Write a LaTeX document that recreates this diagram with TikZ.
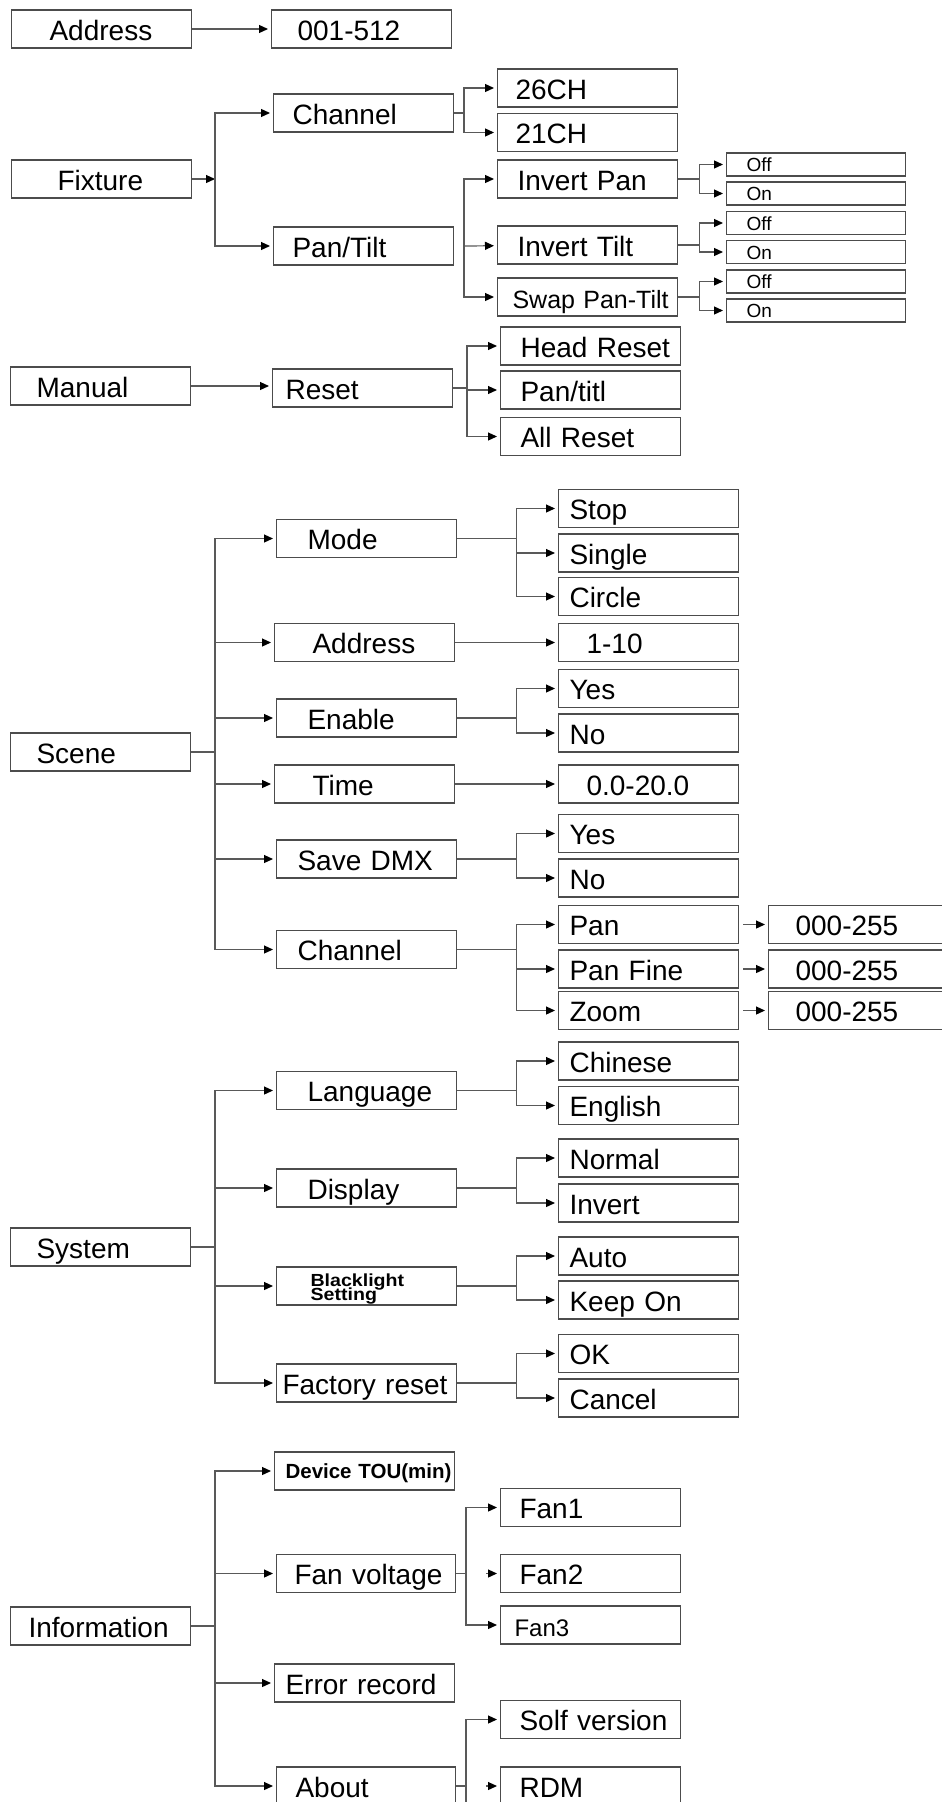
\documentclass[tikz,border=0pt]{standalone}
\usepackage{fontspec}
\setmainfont{Liberation Sans}
\newfontfamily\widefont[FakeStretch=1.12]{Liberation Sans}
\usetikzlibrary{arrows.meta}

\begin{document}
\begin{tikzpicture}[x=1pt,y=-1pt,
    box/.style={draw=black!70,line width=1.1pt,anchor=west,minimum height=38pt,
      text width=180pt,inner xsep=0pt,inner ysep=0pt,align=left,
      text height=22pt,text depth=0pt,font=\fontsize{28pt}{30pt}\selectfont},
    inset/.style={execute at begin node={\hspace*{#1}}},
    opt/.style={box,minimum height=23pt,text width=179pt,text height=14pt,
      font=\fontsize{19pt}{21pt}\selectfont},
    conn/.style={draw=black!65,line width=1.2pt},
    arrowtip/.style={-{Triangle[length=9pt,width=8pt,color=black]}},
    arr/.style={conn,arrowtip,shorten >=3pt}]
  \useasboundingbox (0,0) rectangle (942,1802);
  \clip (0,0) rectangle (942,1802);

  % address
  \node[box,inset=38pt] (addr) at (11,29) {Address};
  \node[box,inset=26pt] (addrval) at (271,29) {001-512};
  \draw[arr] (addr) -- (addrval);

  % fixture
  \node[box,inset=46pt] (fix) at (11,179) {Fixture};
  \node[box,inset=19pt] (fixch) at (273,113) {Channel};
  \node[box,inset=19pt] (fixpt) at (273,246) {Pan/Tilt};
  \node[box,inset=18pt] (ch26) at (497,88) {26CH};
  \node[box,inset=18pt] (ch21) at (497,132.5) {21CH};
  \node[box,inset=20pt] (ipan) at (497,179) {Invert Pan};
  \node[box,inset=20pt] (itilt) at (497,245) {Invert Tilt};
  \node[box,inset=15pt,font=\fontsize{25pt}{27pt}\selectfont] (swap) at (497,297) {Swap Pan-Tilt};
  \foreach \n/\y/\t in {off1/164.5/Off,on1/193.5/On,off2/223/Off,on2/252/On,off3/281.5/Off,on3/310.5/On}
    \node[opt,inset=20pt] (\n) at (726,\y) {\t};
  \coordinate (fixbus) at (215,179);
  \coordinate (chbus) at (464,113);
  \coordinate (ptbus) at (464,246);
  \draw[conn,arrowtip] (fix) -- (fixbus);
  \draw[arr] (fixbus) |- (fixch);
  \draw[arr] (fixbus) |- (fixpt);
  \draw[conn] (fixch) -- (chbus);
  \draw[arr] (chbus) |- (ch26);
  \draw[arr] (chbus) |- (ch21);
  \draw[arr] (ptbus) |- (ipan);
  \draw[arr] (ptbus) -- (itilt);
  \draw[arr] (ptbus) |- (swap);
  \foreach \p/\a/\b in {ipan/off1/on1,itilt/off2/on2,swap/off3/on3} {
    \coordinate (\p bus) at ([xshift=21pt]\p.east);
    \draw[conn] (\p) -- (\p bus);
    \draw[arr] (\p bus) |- (\a);
    \draw[arr] (\p bus) |- (\b);
  }

  % manual
  \node[box,inset=26pt] (man) at (10,386) {Manual};
  \node[box,inset=13pt] (reset) at (272,388) {Reset};
  \node[box,inset=20pt] (hreset) at (500,346) {Head Reset};
  \node[box,inset=20pt] (ptitl) at (500,390) {Pan/titl};
  \node[box,inset=20pt] (areset) at (500,436.5) {All Reset};
  \coordinate (resbus) at (467,388);
  \draw[arr] (man.east) -- (man.east -| reset.west);
  \draw[conn] (reset) -- (resbus);
  \foreach \c in {hreset,ptitl,areset}
    \draw[arr] (resbus) |- (\c);

  % scene
  \node[box,inset=26pt] (scene) at (10,752) {Scene};
  \node[box,inset=31pt] (mode) at (276,538.5) {Mode};
  \node[box,inset=38pt] (scaddr) at (274,642.5) {Address};
  \node[box,inset=31pt] (enable) at (276,718) {Enable};
  \node[box,inset=38pt] (time) at (274,784) {Time};
  \node[box,inset=21pt] (savedmx) at (276,859) {Save DMX};
  \node[box,inset=21pt] (scch) at (276,949.5) {Channel};
  \foreach \n/\y/\t in {stop/508.5/Stop,single/553/Single,circle/596.5/Circle,
      yes1/688.5/Yes,no1/733/No,yes2/833.5/Yes,no2/878/No,
      pan/924.5/Pan,panfine/969/Pan Fine,zoom/1010.5/Zoom}
    \node[box,inset=11pt] (\n) at (558,\y) {\t};
  \node[box,inset=28pt] (addrrange) at (558,642.5) {1-10};
  \node[box,inset=28pt] (timerange) at (558,784) {0.0-20.0};
  \foreach \n/\y in {panval/924.5,fineval/969,zoomval/1010.5}
    \node[box,inset=27pt,text width=182pt] (\n) at (768,\y) {000-255};
  \coordinate (scbus) at (215,752);
  \draw[conn] (scene) -- (scbus);
  \foreach \c in {mode,scaddr,enable,time,savedmx,scch}
    \draw[arr] (scbus) |- (\c);
  \draw[arr] (scaddr) -- (addrrange);
  \draw[arr] (time) -- (timerange);
  \foreach \p/\a/\b in {enable/yes1/no1,savedmx/yes2/no2} {
    \coordinate (\p bus) at ([xshift=59pt]\p.east);
    \draw[conn] (\p) -- (\p bus);
    \draw[arr] (\p bus) |- (\a);
    \draw[arr] (\p bus) |- (\b);
  }
  \coordinate (modebus) at ([xshift=59pt]mode.east);
  \draw[conn] (mode) -- (modebus);
  \foreach \c in {stop,single,circle}
    \draw[arr] (modebus) |- (\c);
  \coordinate (scchbus) at ([xshift=59pt]scch.east);
  \draw[conn] (scch) -- (scchbus);
  \foreach \c in {pan,panfine,zoom}
    \draw[arr] (scchbus) |- (\c);
  \draw[arr,shorten <=4pt] (pan) -- (panval);
  \draw[arr,shorten <=4pt] (panfine) -- (fineval);
  \draw[arr,shorten <=4pt] (zoom) -- (zoomval);

  % system
  \node[box,inset=26pt] (sys) at (10,1247) {System};
  \node[box,inset=31pt] (lang) at (276,1090.5) {Language};
  \node[box,inset=31pt] (disp) at (276,1188) {Display};
  \node[box,text height=10pt,text depth=10pt,font=\widefont\fontsize{17.5pt}{14pt}\selectfont\bfseries,
    execute at begin node={\leftskip=34pt\relax\lineskiplimit=-20pt\relax}] (black) at (276,1286)
    {Blacklight\par Setting};
  \node[box,inset=6pt] (factory) at (276,1383) {Factory reset};
  \foreach \n/\y/\t in {chinese/1061/Chinese,english/1105.5/English,normal/1158/Normal,
      invert/1203/Invert,auto/1256/Auto,keepon/1300/Keep On,ok/1353.5/OK,cancel/1398/Cancel}
    \node[box,inset=11pt] (\n) at (558,\y) {\t};
  \coordinate (sysbus) at (215,1247);
  \draw[conn] (sys) -- (sysbus);
  \foreach \c in {lang,disp,black,factory}
    \draw[arr] (sysbus) |- (\c);
  \foreach \p/\a/\b in {lang/chinese/english,disp/normal/invert,black/auto/keepon,factory/ok/cancel} {
    \coordinate (\p bus) at ([xshift=59pt]\p.east);
    \draw[conn] (\p) -- (\p bus);
    \draw[arr] (\p bus) |- (\a);
    \draw[arr] (\p bus) |- (\b);
  }

  % information
  \node[box,inset=18pt] (info) at (10,1626) {Information};
  \node[box,inset=11pt,text height=15pt,font=\fontsize{20.5pt}{22pt}\selectfont\bfseries] (dtou) at (274,1471) {Device TOU(min)};
  \node[box,inset=18pt,text width=179pt] (fanv) at (276,1573.5) {Fan voltage};
  \node[box,inset=11pt] (err) at (274,1683) {Error record};
  \node[box,inset=19pt,text width=179pt] (about) at (276,1786) {About};
  \node[box,inset=19pt] (fan1) at (500,1507.5) {Fan1};
  \node[box,inset=19pt] (fan2) at (500,1573.5) {Fan2};
  \node[box,inset=14pt,font=\fontsize{24pt}{26pt}\selectfont] (fan3) at (500,1625) {Fan3};
  \node[box,inset=19pt] (solf) at (500,1719.5) {Solf version};
  \node[box,inset=19pt] (rdm) at (500,1786) {RDM};
  \coordinate (infobus) at (215,1626);
  \coordinate (fanbus) at (466,1573.5);
  \coordinate (aboutbus) at (466,1786);
  \draw[conn] (info) -- (infobus);
  \foreach \c in {dtou,fanv,err,about}
    \draw[arr] (infobus) |- (\c);
  \draw[conn] (fanv) -- (fanbus);
  \draw[arr] (fanbus) |- (fan1);
  \draw[arr] (fanbus) |- (fan3);
  \draw[arr,shorten <=20pt] (fanbus) -- (fan2);
  \draw[conn] (about) -- (aboutbus) -- ++(0,40);
  \draw[arr] (aboutbus) |- (solf);
  \draw[arr,shorten <=20pt] (aboutbus) -- (rdm);
\end{tikzpicture}
\end{document}
